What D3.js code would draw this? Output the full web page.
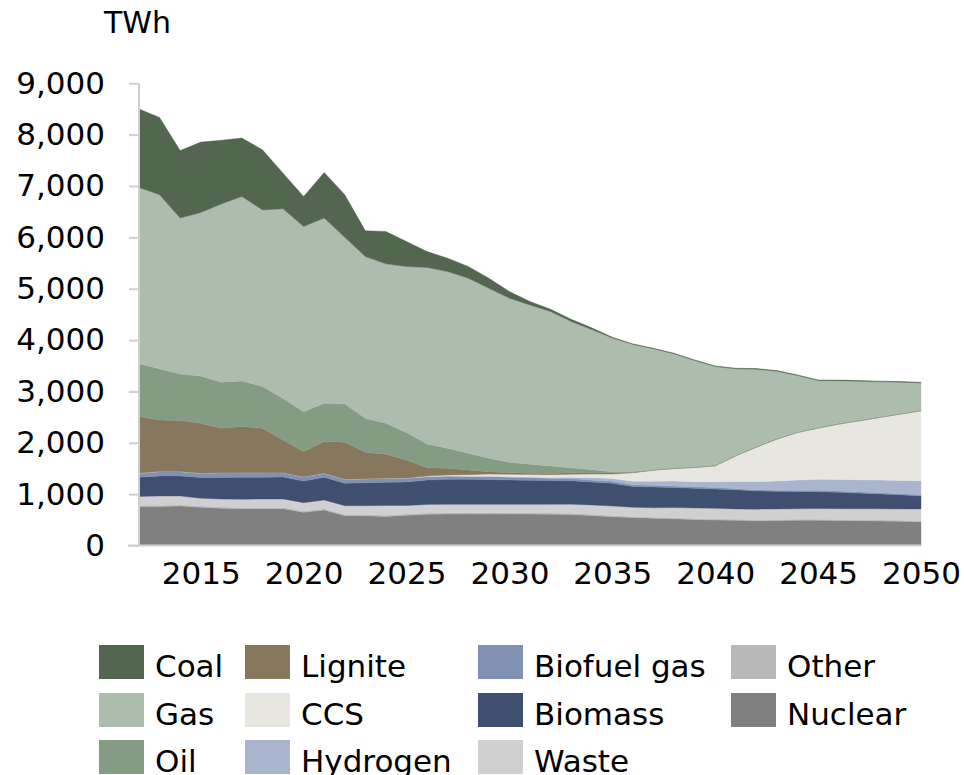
<!DOCTYPE html>
<html>
<head>
<meta charset="utf-8">
<script src="https://cdn.jsdelivr.net/npm/d3@7"></script>
<style>
  body { margin: 0; background: #fff; }
  svg { display: block; font-family: "DejaVu Sans", Verdana, sans-serif; }
</style>
</head>
<body>
<div id="chart"></div>
<script>
// years on the category axis
const years = [2012, 2013, 2014, 2015, 2016, 2017, 2018, 2019, 2020, 2021, 2022, 2023, 2024,
  2025, 2026, 2027, 2028, 2029, 2030, 2031, 2032, 2033, 2034, 2035, 2036, 2037, 2038,
  2039, 2040, 2041, 2042, 2043, 2044, 2045, 2046, 2047, 2048, 2049, 2050];

// TWh per source (bottom of the stack first)
const nuclear = [760, 760, 770, 745, 725, 717, 717, 717, 647, 692, 581, 581, 565,
  590, 610, 614, 614, 614, 614, 612, 610, 605, 585, 561, 545, 530, 520,
  505, 497, 490, 480, 485, 490, 490, 488, 484, 478, 472, 462];
const other = [25, 25, 25, 25, 25, 25, 25, 25, 25, 25, 25, 25, 25,
  25, 25, 25, 25, 25, 25, 25, 25, 25, 25, 25, 20, 20, 20,
  20, 20, 20, 20, 20, 20, 20, 20, 20, 20, 20, 20];
const waste = [170, 180, 170, 150, 156, 158, 164, 164, 162, 169, 170, 170, 190,
  165, 165, 163, 163, 163, 163, 165, 167, 175, 180, 184, 180, 185, 200,
  207, 207, 202, 208, 207, 205, 210, 210, 212, 216, 220, 229];
const biomass = [375, 390, 390, 402, 416, 428, 422, 429, 423, 442, 435, 448, 450,
  457, 476, 487, 487, 483, 474, 468, 463, 458, 445, 441, 405, 405, 390,
  383, 377, 373, 354, 343, 337, 328, 317, 304, 291, 278, 253];
const biofuelGas = [80, 85, 85, 84, 97, 91, 91, 84, 84, 78, 78, 78, 80,
  78, 65, 65, 60, 60, 55, 50, 45, 40, 40, 40, 35, 32, 30,
  28, 28, 25, 20, 22, 22, 28, 26, 24, 22, 20, 20];
const hydrogen = [0, 0, 0, 0, 0, 0, 0, 0, 0, 0, 0, 0, 0,
  0, 0, 0, 0, 5, 10, 12, 15, 25, 45, 55, 65, 80, 95,
  100, 112, 135, 163, 180, 200, 213, 224, 236, 248, 258, 279];
const ccs = [0, 0, 0, 0, 0, 0, 0, 0, 0, 0, 0, 0, 0,
  0, 10, 20, 30, 40, 45, 50, 55, 59, 72, 85, 165, 215, 245,
  277, 312, 503, 670, 816, 928, 998, 1080, 1150, 1220, 1292, 1362];
const lignite = [1100, 1005, 992, 974, 864, 896, 864, 636, 487, 617, 721, 513, 467,
  351, 165, 130, 92, 48, 33, 24, 20, 30, 28, 25, 8, 3, 0,
  0, 0, 0, 0, 0, 0, 0, 0, 0, 0, 0, 0];
const oil = [1030, 995, 908, 920, 897, 890, 812, 810, 777, 747, 747, 663, 603,
  534, 461, 389, 325, 261, 202, 176, 149, 98, 57, 22, 17, 10, 15,
  15, 15, 15, 15, 15, 15, 15, 15, 15, 15, 15, 15];
const gas = [3430, 3390, 3035, 3185, 3470, 3590, 3440, 3690, 3605, 3605, 3243, 3149, 3104,
  3232, 3435, 3441, 3409, 3311, 3195, 3103, 3006, 2845, 2728, 2602, 2476, 2352, 2217,
  2067, 1917, 1677, 1503, 1306, 1093, 910, 830, 754, 678, 605, 527];
const coal = [1530, 1505, 1315, 1370, 1240, 1140, 1170, 695, 585, 890, 830, 500, 630,
  487, 312, 260, 227, 195, 129, 65, 46, 46, 33, 16, 10, 8, 12,
  12, 12, 12, 12, 12, 12, 12, 12, 12, 12, 12, 12];

const yTicks = [0, 1000, 2000, 3000, 4000, 5000, 6000, 7000, 8000, 9000];
const xTickYears = [2015, 2020, 2025, 2030, 2035, 2040, 2045, 2050];

const series = [
  { key: "nuclear", name: "Nuclear", values: nuclear, color: "#808080" },
  { key: "other", name: "Other", values: other, color: "#b8b8b8" },
  { key: "waste", name: "Waste", values: waste, color: "#d0d0d0" },
  { key: "biomass", name: "Biomass", values: biomass, color: "#3f4f70" },
  { key: "biofuelGas", name: "Biofuel gas", values: biofuelGas, color: "#8091b3" },
  { key: "hydrogen", name: "Hydrogen", values: hydrogen, color: "#a9b4ce" },
  { key: "ccs", name: "CCS", values: ccs, color: "#e8e6e0" },
  { key: "lignite", name: "Lignite", values: lignite, color: "#87775c" },
  { key: "oil", name: "Oil", values: oil, color: "#839c83" },
  { key: "gas", name: "Gas", values: gas, color: "#adbdad" },
  { key: "coal", name: "Coal", values: coal, color: "#536650" }
];

// legend columns, top to bottom
const legendCols = [
  ["coal", "gas", "oil"],
  ["lignite", "ccs", "hydrogen"],
  ["biofuelGas", "biomass", "waste"],
  ["other", "nuclear"]
];

const width = 964, height = 775;
const svg = d3.select("#chart").append("svg")
  .attr("width", width)
  .attr("height", height);

const x = d3.scaleLinear().domain([2012, 2050]).range([139, 921]);
const y = d3.scaleLinear().domain([0, 9000]).range([545.5, 83.3]);

// table for the stack
const rows = years.map((yr, i) => {
  const r = { year: yr };
  series.forEach(s => { r[s.key] = s.values[i]; });
  return r;
});

const stacked = d3.stack().keys(series.map(s => s.key))(rows);
const colorOf = {};
series.forEach(s => { colorOf[s.key] = s.color; });

const area = d3.area()
  .x(d => x(d.data.year))
  .y0(d => y(d[0]))
  .y1(d => y(d[1]));

svg.append("g").selectAll("path")
  .data(stacked).join("path")
  .attr("d", area)
  .attr("fill", d => colorOf[d.key])
  .attr("stroke", d => colorOf[d.key])
  .attr("stroke-width", 0.4);

// y axis
const yAxis = svg.append("g").attr("transform", "translate(139,0)")
  .call(d3.axisLeft(y).tickValues(yTicks).tickSize(10).tickPadding(24)
    .tickFormat(d3.format(",")));
yAxis.select(".domain").attr("stroke", "#d0d0d0").attr("stroke-width", 2)
  .attr("d", `M0,${y(0)}V${y(9000)}`);
yAxis.selectAll(".tick line").attr("stroke", "#d0d0d0").attr("stroke-width", 2);
yAxis.selectAll(".tick text").attr("fill", "#000").style("font-size", "31px")
  .style("font-family", '"DejaVu Sans", Verdana, sans-serif');

// x axis
const xAxis = svg.append("g").attr("transform", `translate(0,${y(0)})`)
  .call(d3.axisBottom(x).tickValues(xTickYears).tickSize(0).tickPadding(16)
    .tickFormat(d3.format("d")));
xAxis.select(".domain").attr("stroke", "#d0d0d0").attr("stroke-width", 2)
  .attr("d", "M128,0H921");
xAxis.selectAll(".tick text").attr("fill", "#000").style("font-size", "31px")
  .style("font-family", '"DejaVu Sans", Verdana, sans-serif');

// unit label
svg.append("text")
  .attr("x", 104).attr("y", 33)
  .style("font-size", "30px")
  .text("TWh");

// legend
const colX = [99, 245, 478, 731];
const rowY = [645, 693, 740];
const byKey = {};
series.forEach(s => { byKey[s.key] = s; });

const legend = svg.append("g");
legendCols.forEach((col, ci) => {
  col.forEach((k, ri) => {
    const s = byKey[k];
    legend.append("rect")
      .attr("x", colX[ci]).attr("y", rowY[ri])
      .attr("width", 45).attr("height", 34)
      .attr("fill", s.color);
    legend.append("text")
      .attr("x", colX[ci] + 56).attr("y", rowY[ri] + 32)
      .style("font-size", "31px")
      .text(s.name);
  });
});
</script>
</body>
</html>
